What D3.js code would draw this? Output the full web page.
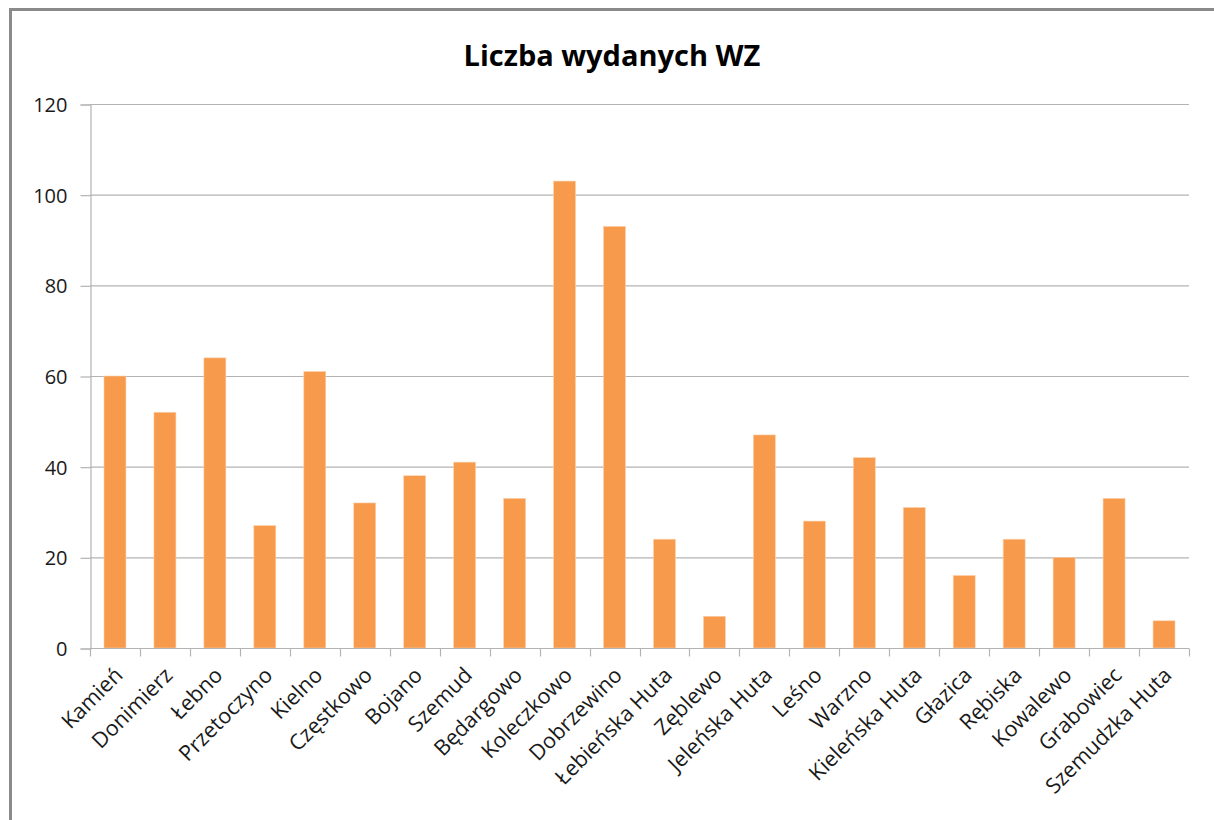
<!DOCTYPE html>
<html>
<head>
<meta charset="utf-8">
<script src="https://cdn.jsdelivr.net/npm/d3@7"></script>
<style>
  html, body { margin: 0; padding: 0; background: #fff; }
  svg { display: block; }
  text { font-family: "Open Sans", "Noto Sans", sans-serif; }
</style>
</head>
<body>
<svg id="chart" width="1214" height="820"></svg>
<script>
// Number of issued decisions (WZ) per village
const categories = [
  "Kamień", "Donimierz", "Łebno", "Przetoczyno", "Kielno", "Częstkowo",
  "Bojano", "Szemud", "Będargowo", "Koleczkowo", "Dobrzewino", "Łebieńska Huta",
  "Zęblewo", "Jeleńska Huta", "Leśno", "Warzno", "Kieleńska Huta", "Głazica",
  "Rębiska", "Kowalewo", "Grabowiec", "Szemudzka Huta"
];
const values = [60, 52, 64, 27, 61, 32, 38, 41, 33, 103, 93, 24, 7, 47, 28, 42, 31, 16, 24, 20, 33, 6];
const yTicks = [0, 20, 40, 60, 80, 100, 120];
const chartTitle = "Liczba wydanych WZ";

const svg = d3.select("#chart");
const margin = { left: 90, right: 1189, top: 104, bottom: 648 };

// Outer chart frame (only top and left edges fall inside the view)
svg.append("path")
  .attr("d", "M10.5,1000 L10.5,9.5 L1300,9.5")
  .attr("fill", "none")
  .attr("stroke", "#8a8a8a")
  .attr("stroke-width", 3);

const x = d3.scaleBand()
  .domain(categories)
  .range([margin.left, margin.right])
  .paddingInner(0.56)
  .paddingOuter(0.28);

const y = d3.scaleLinear()
  .domain([0, 120])
  .range([margin.bottom, margin.top]);

// Horizontal gridlines
svg.append("g")
  .selectAll("line")
  .data(yTicks.filter(d => d > 0))
  .join("line")
  .attr("x1", margin.left)
  .attr("x2", margin.right)
  .attr("y1", d => y(d) + 0.5)
  .attr("y2", d => y(d) + 0.5)
  .attr("stroke", "#b3b3b3")
  .attr("stroke-width", 1.2);

// Bars
svg.append("g")
  .selectAll("rect")
  .data(values)
  .join("rect")
  .attr("x", (d, i) => x(categories[i]))
  .attr("y", d => y(d))
  .attr("width", x.bandwidth())
  .attr("height", d => y(0) - y(d))
  .attr("fill", "#f79a4c")
  .attr("stroke", "#fbd3b0")
  .attr("stroke-width", 0.6);

// Y axis
const yAxis = d3.axisLeft(y)
  .tickValues(yTicks)
  .tickSize(10)
  .tickPadding(13)
  .tickFormat(d3.format("d"));
const gy = svg.append("g")
  .attr("transform", `translate(${margin.left + 0.5},0.5)`)
  .call(yAxis);
gy.select(".domain").attr("stroke", "#b3b3b3").attr("stroke-width", 1.2);
gy.selectAll(".tick line").attr("stroke", "#b3b3b3").attr("stroke-width", 1.2);
gy.selectAll(".tick text")
  .attr("fill", "#1a1a1a")
  .style("font-size", "20px")
  .attr("dy", "0.35em");

// X axis: baseline with tick marks between categories
const gx = svg.append("g").attr("transform", `translate(0,${margin.bottom + 0.5})`);
gx.append("line")
  .attr("x1", margin.left)
  .attr("x2", margin.right)
  .attr("stroke", "#b3b3b3")
  .attr("stroke-width", 1.2);
const step = x.step();
const boundaries = d3.range(categories.length + 1).map(i => margin.left + i * step);
gx.selectAll("line.tk")
  .data(boundaries)
  .join("line")
  .attr("class", "tk")
  .attr("x1", d => Math.round(d) + 0.5)
  .attr("x2", d => Math.round(d) + 0.5)
  .attr("y1", 0)
  .attr("y2", 8)
  .attr("stroke", "#b3b3b3")
  .attr("stroke-width", 1.2);

// Rotated category labels
gx.selectAll("text.cat")
  .data(categories)
  .join("text")
  .attr("class", "cat")
  .attr("transform", d => `translate(${x(d) + x.bandwidth() / 2 + 9},${28}) rotate(-45)`)
  .attr("text-anchor", "end")
  .attr("fill", "#1a1a1a")
  .style("font-size", "21.5px")
  .text(d => d);

// Title
svg.append("text")
  .attr("x", 612)
  .attr("y", 66)
  .attr("text-anchor", "middle")
  .attr("fill", "#000")
  .style("font-size", "29px")
  .style("font-weight", "bold")
  .text(chartTitle);
</script>
</body>
</html>
